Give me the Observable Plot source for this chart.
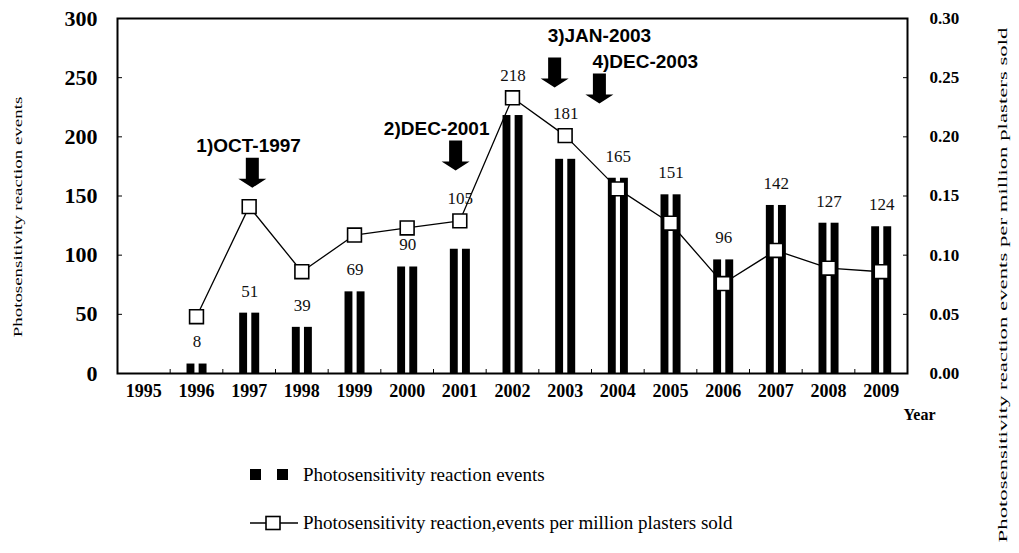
<!DOCTYPE html>
<html>
<head>
<meta charset="utf-8">
<script src="https://cdn.jsdelivr.net/npm/d3@7"></script>
<script src="https://cdn.jsdelivr.net/npm/@observablehq/plot@0.6"></script>
<style>
  html, body { margin: 0; padding: 0; background: #fff; }
  #page { position: relative; width: 1019px; height: 553px; overflow: hidden; font-family: "Liberation Serif", "Times New Roman", serif; color: #000; }
  #legend { position: relative; width: 1019px; height: 103px; }
  .row { position: absolute; left: 250px; height: 22px; display: flex; align-items: center; font-size: 19px; white-space: nowrap; }
  .row svg { margin-right: 5px; }
  .title { position: absolute; white-space: nowrap; font-size: 13px; transform-origin: 50% 50%; }
</style>
</head>
<body>
<div id="page">
  <div id="chart"></div>
  <div id="legend">
    <div class="row" id="row1" style="top:14px"></div>
    <div class="row" id="row2" style="top:62px"></div>
  </div>
</div>
<script>
// ---- data ----
const years = [1995, 1996, 1997, 1998, 1999, 2000, 2001, 2002, 2003, 2004, 2005, 2006, 2007, 2008, 2009];
const events = [0, 8, 51, 39, 69, 90, 105, 218, 181, 165, 151, 96, 142, 127, 124];
const perMillion = [null, 0.048, 0.141, 0.086, 0.117, 0.123, 0.129, 0.233, 0.201, 0.156, 0.127, 0.076, 0.104, 0.089, 0.086];
const leftTicks = [0, 50, 100, 150, 200, 250, 300];
const rightTicks = [0, 0.05, 0.10, 0.15, 0.20, 0.25, 0.30];
const annotationText = ["1)OCT-1997", "2)DEC-2001", "3)JAN-2003", "4)DEC-2003"];
const annotationTextX = [1996.99, 2000.56, 2003.65, 2004.52];
const annotationTextY = [192, 207, 285, 263];
const arrowX = [1997.06, 2000.92, 2002.80, 2003.65];
const arrowTipY = [157, 171.5, 241.7, 228.2];
const leftTitle = "Photosensitivity reaction events";
const rightTitle = "Photosensitivity reaction events per million plasters sold";
const xTitle = "Year";
const legendBars = "Photosensitivity reaction events";
const legendLine = "Photosensitivity reaction,events per million plasters sold";

// right axis (0–0.30) maps onto left axis (0–300)
const RATIO = 1000;

const rows = years.map((year, i) => ({year, events: events[i], rate: perMillion[i]}));
const barRows = rows.filter(d => d.events > 0);
const rateRows = rows.filter(d => d.rate != null);
const annRows = annotationText.map((label, i) => ({label, tx: annotationTextX[i], ty: annotationTextY[i], ax: arrowX[i], ay: arrowTipY[i]}));
const boundaries = years.slice(1).map(y => y - 0.5);

// label sits above the bar, unless the square is just above the bar top
const labelBase = d => {
  const r = d.rate == null ? -Infinity : d.rate * RATIO;
  return (r > d.events && r - d.events < 30) ? r : d.events;
};

const serif = '"Liberation Serif", "Times New Roman", serif';
const sans = '"Liberation Sans", Arial, sans-serif';

// block arrow symbol, tip at the anchor point
const arrowSymbol = {
  draw(ctx) {
    ctx.moveTo(-6.5, -30);
    ctx.lineTo(6.5, -30);
    ctx.lineTo(6.5, -9);
    ctx.lineTo(14, -9);
    ctx.lineTo(0, 0);
    ctx.lineTo(-14, -9);
    ctx.lineTo(-6.5, -9);
    ctx.closePath();
  }
};

const chart = Plot.plot({
  width: 1019,
  height: 450,
  marginTop: 18,
  marginBottom: 77,
  marginLeft: 117,
  marginRight: 112,
  style: {fontFamily: serif, background: "white", color: "black", overflow: "visible"},
  x: {type: "linear", domain: [1994.5, 2009.5], axis: null},
  y: {domain: [0, 300], axis: null},
  marks: [
    // bars: each year drawn as a pair of thin black bars
    Plot.rectY(barRows, {x1: d => d.year - 0.18, x2: d => d.year - 0.03, y: "events", fill: "black", inset: 0}),
    Plot.rectY(barRows, {x1: d => d.year + 0.05, x2: d => d.year + 0.20, y: "events", fill: "black", inset: 0}),
    // rate line on the right axis
    Plot.line(rateRows, {x: "year", y: d => d.rate * RATIO, stroke: "black", strokeWidth: 1.3}),
    Plot.dot(rateRows, {x: "year", y: d => d.rate * RATIO, symbol: "square", r: 7.8, fill: "white", stroke: "black", strokeWidth: 1.6}),
    // value labels
    Plot.text(barRows, {x: d => d.year + 0.01, y: labelBase, text: d => String(d.events), dy: -22, fontSize: 17, fontFamily: serif, fill: "#111"}),
    // left axis: inward ticks
    Plot.axisY({ticks: leftTicks, anchor: "left", tickSize: 5, dx: 5, tickPadding: 20, fontSize: 22, fontWeight: "bold", fontFamily: serif, label: null, tickFormat: d => String(d)}),
    // right axis: inward ticks, rate values
    Plot.axisY({ticks: rightTicks.map(t => t * RATIO), anchor: "right", tickSize: 5, dx: -5, tickPadding: 22, fontSize: 17, fontWeight: "bold", fontFamily: serif, label: null, tickFormat: d => (d / RATIO).toFixed(2)}),
    // x axis: year labels
    Plot.axisX({ticks: years, anchor: "bottom", tickSize: 0, tickPadding: 11, fontSize: 18, fontWeight: "bold", fontFamily: serif, label: null, tickFormat: d => String(d)}),
    // x axis: small inward ticks at category boundaries
    Plot.axisX({ticks: boundaries, anchor: "bottom", tickSize: 4, dy: -4, label: null, tickFormat: () => ""}),
    Plot.frame({stroke: "black", strokeWidth: 2}),
    // annotations
    Plot.dot(annRows, {x: "ax", y: "ay", symbol: arrowSymbol, r: 10, fill: "black", stroke: "none"}),
    Plot.text(annRows, {x: "tx", y: "ty", text: "label", fontFamily: sans, fontWeight: "bold", fontSize: 19, fill: "black"}),
    Plot.text([xTitle], {frameAnchor: "bottom-right", dx: 28, dy: 46, textAnchor: "end", fontSize: 16, fontFamily: serif, fontWeight: "bold"})
  ]
});
document.getElementById("chart").appendChild(chart);

// legend
const row1 = document.getElementById("row1");
row1.innerHTML = `<svg width="48" height="14"><rect x="0" y="1" width="11" height="11" fill="black"/><rect x="27" y="1" width="11" height="11" fill="black"/></svg>`;
row1.appendChild(document.createTextNode(legendBars));
const row2 = document.getElementById("row2");
row2.innerHTML = `<svg width="48" height="16"><line x1="0" y1="8" x2="48" y2="8" stroke="black" stroke-width="1.6"/><rect x="16" y="1.5" width="14" height="13" fill="white" stroke="black" stroke-width="1.6"/></svg>`;
row2.appendChild(document.createTextNode(legendLine));

// rotated axis titles (stretched along the reading direction as in the scan)
function addTitle(text, cx, cy, length) {
  const el = document.createElement("div");
  el.className = "title";
  el.textContent = text;
  document.getElementById("page").appendChild(el);
  const w = el.offsetWidth, h = el.offsetHeight;
  el.style.left = (cx - w / 2) + "px";
  el.style.top = (cy - h / 2) + "px";
  el.style.transform = `rotate(-90deg) scaleX(${length / w})`;
}
addTitle(leftTitle, 17, 217, 240);
addTitle(rightTitle, 1003, 285, 515);
</script>
</body>
</html>
